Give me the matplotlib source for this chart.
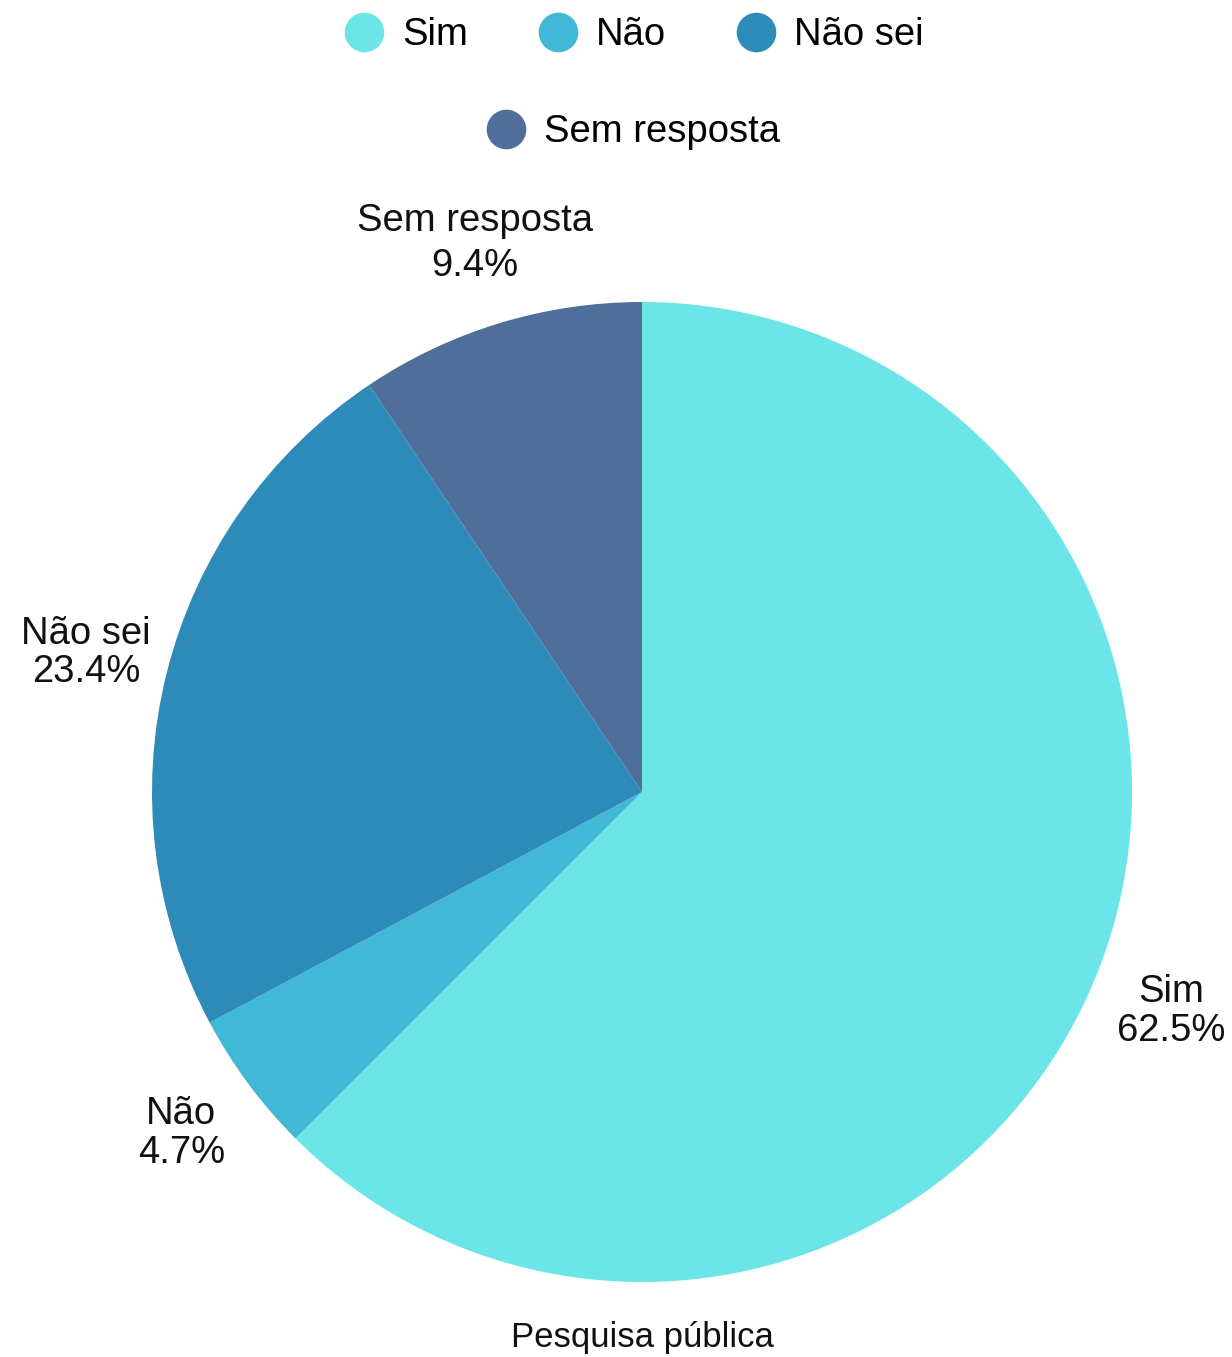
import matplotlib.pyplot as plt
from matplotlib.lines import Line2D

plt.rcParams['font.family'] = ['Liberation Sans', 'DejaVu Sans']

categories = ['Sim', 'Não', 'Não sei', 'Sem resposta']
values = [62.5, 4.7, 23.4, 9.4]
colors = ['#6CE5E8', '#41B8D5', '#2D8BBA', '#506E9A']
title = 'Pesquisa pública'

W, H = 1232, 1357
fig = plt.figure(figsize=(W / 100, H / 100), dpi=100)
fig.patch.set_facecolor('white')

# pie centre (642, 792) px, radius 490 px
cx, cy, r = 642, 792, 490
ax = fig.add_axes([(cx - r) / W, (H - cy - r) / H, 2 * r / W, 2 * r / H])

labels = [f'{c}\n{v}%' for c, v in zip(categories, values)]
wedges, texts = ax.pie(values, colors=colors, startangle=90, counterclock=False,
                       radius=1, labels=labels, labeldistance=1.17,
                       textprops=dict(ha='center', va='center', fontsize=27.5,
                                      linespacing=1.1, color='#111111'),
                       wedgeprops=dict(linewidth=0))
texts[3].set_linespacing(1.35)
ax.set_xlim(-1, 1)
ax.set_ylim(-1, 1)

fig.text(cx / W, 1 - 1338 / H, title, fontsize=25, ha='center', va='center',
         color='#111111')

handles = [Line2D([], [], marker='o', linestyle='none', markersize=27.5,
                  markerfacecolor=c, markeredgecolor=c) for c in colors]

leg_kw = dict(frameon=False, fontsize=27.5, handlelength=1.0, handletextpad=0.5,
              columnspacing=1.85, borderpad=0, borderaxespad=0)
fig.legend(handles[:3], categories[:3], ncol=3, loc='center',
           bbox_to_anchor=(0.515, 1 - 35 / H), **leg_kw)
fig.legend(handles[3:], categories[3:], ncol=1, loc='center',
           bbox_to_anchor=(0.514, 1 - 132 / H), **leg_kw)

fig.savefig('out.png', dpi=100, facecolor='white')
